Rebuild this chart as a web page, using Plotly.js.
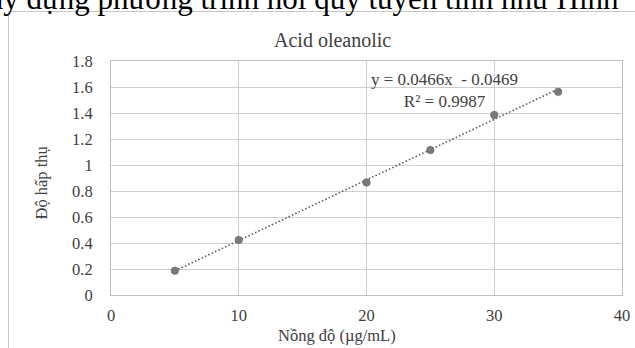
<!DOCTYPE html>
<html>
<head>
<meta charset="utf-8">
<script src="https://cdn.plot.ly/plotly-3.0.1.min.js"></script>
<style>html,body{margin:0;padding:0;background:#fff;}#chart{width:635px;height:348px;}</style>
</head>
<body>
<div id="chart"></div>
<script>
// Data
const concentration = [5, 10, 20, 25, 30, 35];           // µg/mL
const absorbance    = [0.187, 0.423, 0.866, 1.115, 1.385, 1.563];
const fitSlope = [0.0466];
const fitIntercept = [-0.0469];
const fitR2 = [0.9987];
const xTicks = [0, 10, 20, 30, 40];
const yTicks = [0, 0.2, 0.4, 0.6, 0.8, 1, 1.2, 1.4, 1.6, 1.8];
const yTickText = ["0", "0.2", "0.4", "0.6", "0.8", "1", "1.2", "1.4", "1.6", "1.8"];
const chartTitle = "Acid oleanolic";
const xTitle = "Nồng độ (µg/mL)";
const yTitle = "Độ hấp thụ";
const pageText = "xây dựng phương trình hồi quy tuyến tính như Hình";

const FONT = "Liberation Serif";
const W = 635, H = 348;
const L = 111, R = 13, T = 61, B = 53;
const pw = W - L - R, ph = H - T - B;
const px = v => (v - L) / pw;           // pixel x -> paper x
const py = v => (H - B - v) / ph;       // pixel y -> paper y

const xMin = Math.min(...concentration), xMax = Math.max(...concentration);
const trendX = [xMin, xMax];
const trendY = trendX.map(x => fitSlope[0] * x + fitIntercept[0]);

const traces = [
  {
    x: trendX, y: trendY, mode: 'lines', type: 'scatter',
    line: {color: '#595959', width: 1.6, dash: '1.5px,2.2px'},
    hoverinfo: 'skip', showlegend: false
  },
  {
    x: concentration, y: absorbance, mode: 'markers', type: 'scatter',
    marker: {color: '#7a7a7a', size: 7.5, line: {color: '#666666', width: 0.6}},
    showlegend: false
  }
];

const eqText = 'y = ' + fitSlope[0] + 'x \u00a0- ' + Math.abs(fitIntercept[0]) +
  '<br>R² = ' + fitR2[0];

const layout = {
  width: W, height: H,
  margin: {l: L, r: R, t: T, b: B, pad: 0},
  paper_bgcolor: '#ffffff', plot_bgcolor: '#ffffff',
  font: {family: FONT, color: '#404040', size: 16},
  showlegend: false,
  xaxis: {
    range: [0, 40], tickvals: xTicks, ticks: '', showgrid: true,
    gridcolor: '#cfcfcf', gridwidth: 1, zeroline: false,
    showline: true, linecolor: '#bfbfbf', linewidth: 1, mirror: true,
    tickfont: {family: FONT, size: 16.5, color: '#404040'},
    ticklabelstandoff: 5
  },
  yaxis: {
    range: [0, 1.8], tickvals: yTicks, ticktext: yTickText, ticks: '', showgrid: true,
    gridcolor: '#cfcfcf', gridwidth: 1, zeroline: false,
    showline: true, linecolor: '#bfbfbf', linewidth: 1, mirror: true,
    tickfont: {family: FONT, size: 16.5, color: '#404040'},
    ticklabelstandoff: 14
  },
  annotations: [
    {text: chartTitle, xref: 'paper', yref: 'paper', x: px(332), y: py(40),
     xanchor: 'center', yanchor: 'middle', showarrow: false,
     font: {family: FONT, size: 20, color: '#404040'}},
    {text: xTitle, xref: 'paper', yref: 'paper', x: px(337), y: py(335),
     xanchor: 'center', yanchor: 'middle', showarrow: false,
     font: {family: FONT, size: 16.5, color: '#404040'}},
    {text: yTitle, xref: 'paper', yref: 'paper', x: px(41), y: py(183.5),
     xanchor: 'center', yanchor: 'middle', showarrow: false, textangle: -90,
     font: {family: FONT, size: 16.5, color: '#404040'}},
    {text: eqText, xref: 'paper', yref: 'paper', x: px(444), y: py(90),
     xanchor: 'center', yanchor: 'middle', align: 'center', showarrow: false,
     font: {family: FONT, size: 17, color: '#404040'}},
    {text: pageText, xref: 'paper', yref: 'paper', x: px(621), y: py(-2),
     xanchor: 'right', yanchor: 'middle', showarrow: false,
     font: {family: FONT, size: 31, color: '#000000'}}
  ],
  shapes: [
    {type: 'line', xref: 'paper', yref: 'paper', x0: px(8.5), x1: px(8.5), y0: py(11.5), y1: py(400),
     line: {color: '#c6c6c6', width: 1}},
    {type: 'line', xref: 'paper', yref: 'paper', x0: px(8.5), x1: px(700), y0: py(11.5), y1: py(11.5),
     line: {color: '#c6c6c6', width: 1}}
  ]
};

Plotly.newPlot('chart', traces, layout, {displayModeBar: false, staticPlot: true});
</script>
</body>
</html>
